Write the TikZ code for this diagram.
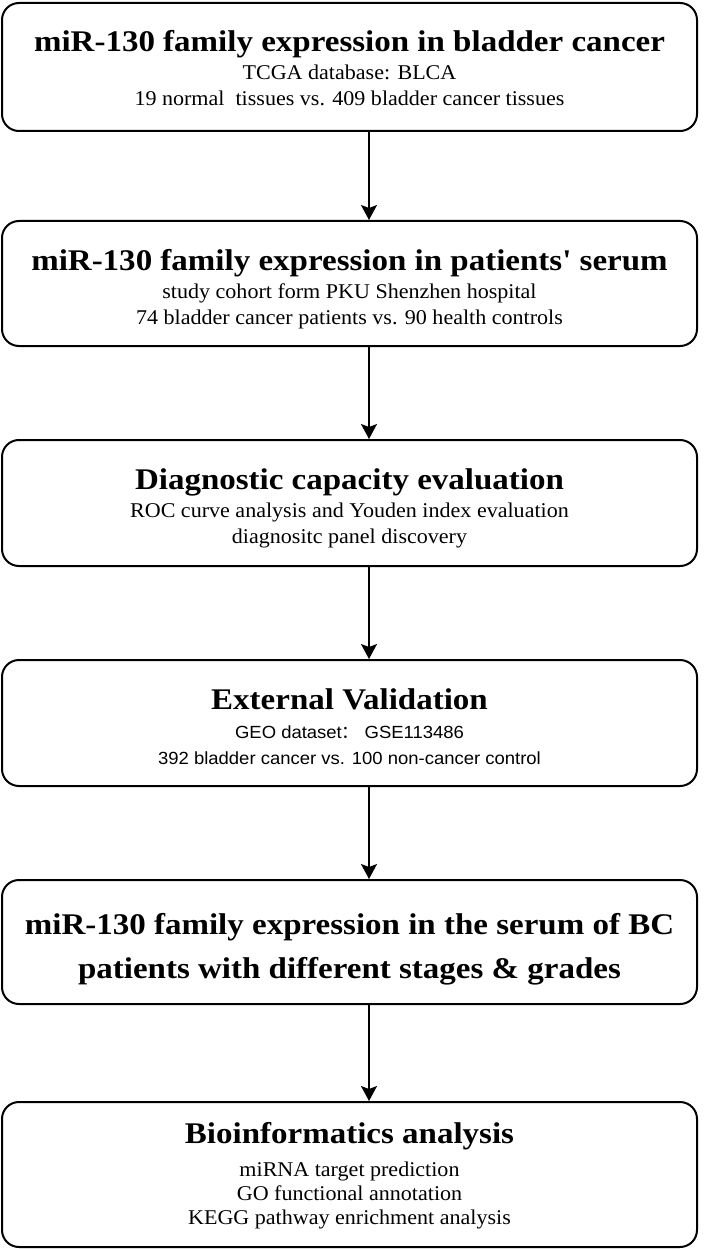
\documentclass[tikz,border=0pt]{standalone}
\usepackage{fontspec}
\setmainfont{Liberation Serif}
\newfontfamily\ttlfont[FakeStretch=1.1]{Liberation Serif}
\newfontfamily\subfont[FakeStretch=1.05]{Liberation Serif}
\newfontfamily\sansfont[FakeStretch=1.05]{Liberation Sans}
\newfontfamily\cjk{Noto Sans CJK SC}
\usetikzlibrary{arrows.meta,calc}
\tikzset{
  stepbox/.style={draw, line width=2pt, rounded corners=17pt, minimum width=695pt, fill=white, inner sep=0pt},
  ttl/.style={anchor=base, inner sep=0pt, font=\fontsize{30}{36}\selectfont\ttlfont\bfseries},
  sbt/.style={anchor=base, inner sep=0pt, font=\fontsize{21}{25}\selectfont\subfont},
  sbs/.style={anchor=base, inner sep=0pt, font=\fontsize{17.6}{25}\selectfont\sansfont},
  arr/.style={line width=1.6pt, -{Stealth[length=15pt,width=16pt,inset=3pt]}},
}
\begin{document}
\begin{tikzpicture}[x=1pt,y=1pt]
\useasboundingbox (0,0) rectangle (709,-1249);
\coordinate (ax) at (369,0);
\node[stepbox, minimum height=128pt] (b1) at (349.5,-67) {};
\node[stepbox, minimum height=125pt] (b2) at (349.5,-283.5) {};
\node[stepbox, minimum height=126pt] (b3) at (349.5,-503) {};
\node[stepbox, minimum height=126pt] (b4) at (349.5,-723) {};
\node[stepbox, minimum height=124pt] (b5) at (349.5,-942) {};
\node[stepbox, minimum height=145pt] (b6) at (349.5,-1174.5) {};
% box 1
\node[ttl] (t1a) at (349.5,-52) {miR-130 family expression in bladder cancer};
\node[sbt] (t1b) at (349.5,-80) {TCGA database: BLCA};
\node[sbt] (t1c) at (349.5,-106) {19 normal\ \ tissues vs. 409 bladder cancer tissues};
% box 2
\node[ttl] (t2a) at (349.5,-270) {miR-130 family expression in patients' serum};
\node[sbt] (t2b) at (349.5,-298) {study cohort form PKU Shenzhen hospital};
\node[sbt] (t2c) at (349.5,-324) {74 bladder cancer patients vs. 90 health controls};
% box 3
\node[ttl] (t3a) at (349.5,-489) {Diagnostic capacity evaluation};
\node[sbt] (t3b) at (349.5,-517) {ROC curve analysis and Youden index evaluation};
\node[sbt] (t3c) at (349.5,-543) {diagnositc panel discovery};
% box 4
\node[ttl] (t4a) at (349.5,-709) {External Validation};
\node[sbs] (t4b) at (349.5,-738) {GEO dataset{\cjk ：}\ GSE113486};
\node[sbs] (t4c) at (349.5,-764) {392 bladder cancer vs. 100 non-cancer control};
% box 5
\node[ttl] (t5a) at (349.5,-934) {miR-130 family expression in the serum of BC};
\node[ttl] (t5b) at (349.5,-978) {patients with different stages \& grades};
% box 6
\node[ttl] (t6a) at (349.5,-1143) {Bioinformatics analysis};
\node[sbt] (t6b) at (349.5,-1176) {miRNA target prediction};
\node[sbt] (t6c) at (349.5,-1200) {GO functional annotation};
\node[sbt] (t6d) at (349.5,-1224) {KEGG pathway enrichment analysis};
\draw[arr] (b1.south -| ax) -- (b2.north -| ax);
\draw[arr] (b2.south -| ax) -- (b3.north -| ax);
\draw[arr] (b3.south -| ax) -- (b4.north -| ax);
\draw[arr] (b4.south -| ax) -- (b5.north -| ax);
\draw[arr] (b5.south -| ax) -- (b6.north -| ax);
\end{tikzpicture}
\end{document}
